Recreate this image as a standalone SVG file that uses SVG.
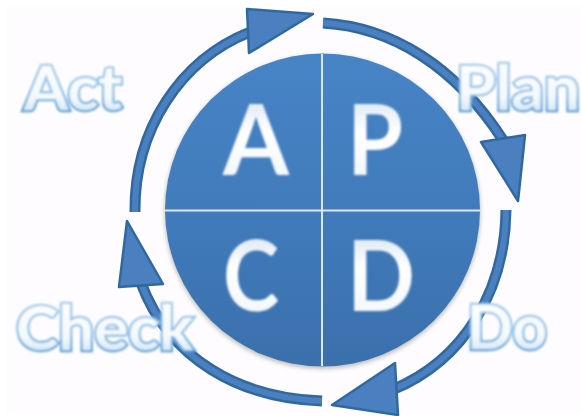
<svg xmlns="http://www.w3.org/2000/svg" width="581" height="416" viewBox="0 0 581 416">
<defs>
<linearGradient id="disc" x1="0" y1="0" x2="0" y2="1"><stop offset="0" stop-color="#4784c6"/><stop offset=".5" stop-color="#417bbb"/><stop offset="1" stop-color="#3a70ac"/></linearGradient>
<linearGradient id="lblStroke" x1="0" y1="0" x2="0" y2="1"><stop offset="0" stop-color="#b3d2ec"/><stop offset=".6" stop-color="#8fc0e6"/><stop offset="1" stop-color="#3f8ed0"/></linearGradient>
<linearGradient id="lblFill" x1="0" y1="0" x2="0" y2="1"><stop offset="0" stop-color="#ffffff"/><stop offset=".65" stop-color="#f4f9fd"/><stop offset="1" stop-color="#bedbf1"/></linearGradient>
<linearGradient id="ltr" x1="0" y1="0" x2="0" y2="1"><stop offset="0" stop-color="#c9dcee"/><stop offset=".45" stop-color="#ffffff"/><stop offset="1" stop-color="#eef4fa"/></linearGradient>
<filter id="soft" x="-10%" y="-10%" width="120%" height="120%"><feGaussianBlur stdDeviation="0.8"/></filter>
<filter id="shadow" x="-10%" y="-10%" width="120%" height="120%"><feGaussianBlur stdDeviation="2"/></filter>
<style>
.o{fill:none;stroke:#30689f;stroke-width:11}
.i{fill:none;stroke:#4a80bf;stroke-width:6}
.h{fill:#4a80bf;stroke:#30689f;stroke-width:2.5;stroke-linejoin:round}
.l{font-family:Lato,"Open Sans",sans-serif;font-weight:700;font-size:62px;fill:url(#lblFill);stroke:url(#lblStroke);stroke-width:4.5;paint-order:stroke fill;filter:url(#soft)}
.b{font-family:Lato,"Open Sans",sans-serif;font-weight:700;font-size:97px;fill:url(#ltr);filter:url(#soft)}
.d{stroke:#dbe6f2;stroke-width:2}
</style>
</defs>
<rect width="581" height="416" fill="#ffffff"/>
<rect x="6" y="7" width="575" height="405" fill="#fefcfe"/>
<g id="connectors">
<path class="o" d="M323 23 C392 27 455 66 503 140"/>
<path class="i" d="M323 23 C392 27 455 66 503 140"/>
<polygon class="h" points="481,142 525,135 518,201"/>
<path class="o" d="M506 210 C505 290 465 360 392 390"/>
<path class="i" d="M506 210 C505 290 465 360 392 390"/>
<polygon class="h" points="395,363 332,405 398,415"/>
<path class="o" d="M322 401 C240 398 170 360 141 283"/>
<path class="i" d="M322 401 C240 398 170 360 141 283"/>
<polygon class="h" points="127,221 163,284 119,287"/>
<path class="o" d="M135 212 C134 130 180 60 250 32"/>
<path class="i" d="M135 212 C134 130 180 60 250 32"/>
<polygon class="h" points="247,9 313,14 249,53"/>
</g>
<g id="disc-pdca">
<ellipse cx="322.500" cy="212" rx="158" ry="157" fill="#8a8f8a" opacity=".55" filter="url(#shadow)"/>
<ellipse cx="322.500" cy="210" rx="157.500" ry="156.500" fill="url(#disc)"/>
<line class="d" x1="322" y1="54" x2="322" y2="366"/>
<line class="d" x1="165" y1="210.500" x2="480" y2="210.500"/>
</g>
<g id="node-a"><text class="b" x="223" y="175" textLength="66" lengthAdjust="spacingAndGlyphs">A</text></g>
<g id="node-p"><text class="b" x="347" y="175" textLength="56" lengthAdjust="spacingAndGlyphs">P</text></g>
<g id="node-c"><text class="b" x="223" y="311" textLength="56" lengthAdjust="spacingAndGlyphs">C</text></g>
<g id="node-d"><text class="b" x="347" y="311" textLength="68" lengthAdjust="spacingAndGlyphs">D</text></g>
<g id="label-act"><text class="l" x="24" y="110" textLength="98" lengthAdjust="spacingAndGlyphs">Act</text></g>
<g id="label-plan"><text class="l" x="456" y="110" textLength="124" lengthAdjust="spacingAndGlyphs">Plan</text></g>
<g id="label-check"><text class="l" x="16" y="350" textLength="177" lengthAdjust="spacingAndGlyphs">Check</text></g>
<g id="label-do"><text class="l" x="467" y="349" textLength="80" lengthAdjust="spacingAndGlyphs">Do</text></g>
</svg>
